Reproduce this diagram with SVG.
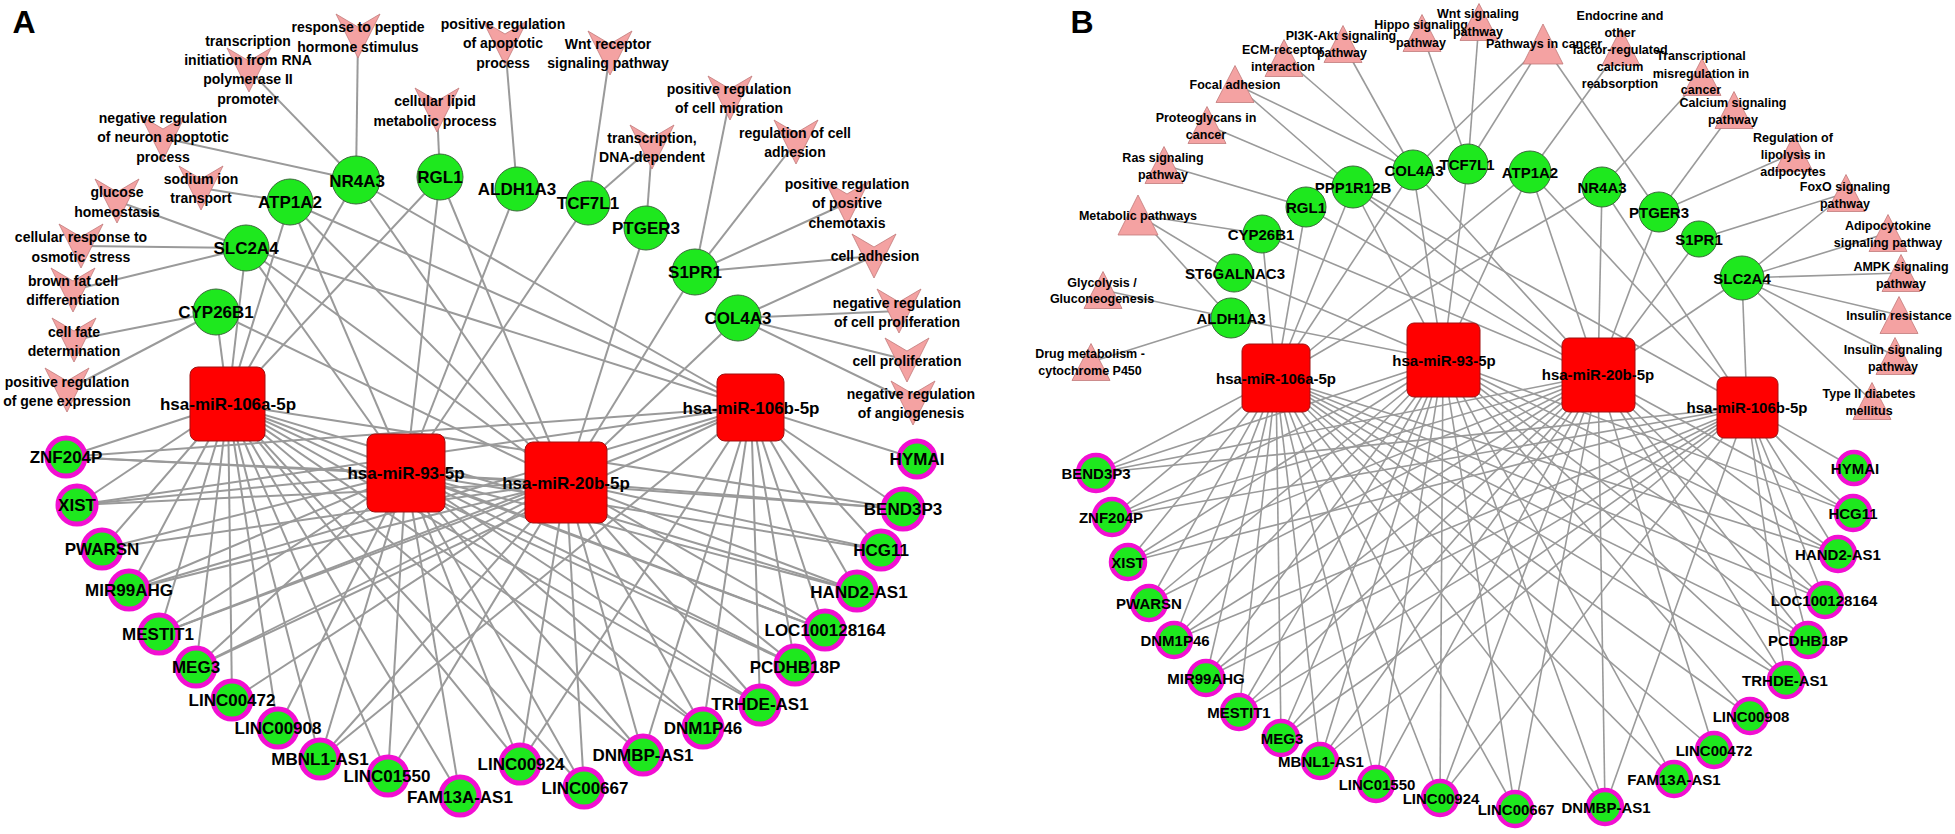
<svg xmlns="http://www.w3.org/2000/svg" xmlns:xlink="http://www.w3.org/1999/xlink" width="1955" height="834" viewBox="0 0 1955 834">
<style>
text{font-family:"Liberation Sans",Arial,sans-serif;font-weight:bold;fill:#000;text-anchor:middle}
.ea line{stroke:#9a9a9a;stroke-width:2}
.eb line{stroke:#9a9a9a;stroke-width:1.6}
.gene{fill:#1ee81e;stroke:#3a6a3a;stroke-width:1}
.lnc{fill:#1ee81e;stroke:#f20fd2;stroke-width:5}
.lncb{fill:#1ee81e;stroke:#f20fd2;stroke-width:4.5}
.mir{fill:#ff0000;stroke:#a01010;stroke-width:1}
.ta{font-size:17px}
.tb{font-size:15px}
.go{font-size:14px}
.kg{font-size:12.5px}
.pl{font-size:32px}
</style>
<defs>
<path id="gv" d="M-22,-22 L0,-9 L22,-22 L0,22 Z" fill="#f4a2a2" stroke="#c07a7a" stroke-width="0.8"/>
<path id="kt" d="M0,-18.5 L19,18.5 L-19,18.5 Z" fill="#f4a2a2" stroke="#c07a7a" stroke-width="0.8"/>
<path id="ktl" d="M0,-20 L20,20 L-20,20 Z" fill="#f4a2a2" stroke="#c07a7a" stroke-width="0.8"/>
</defs>
<rect width="1955" height="834" fill="#fff"/>
<text class="pl" x="24" y="33">A</text>
<text class="pl" x="1082" y="33">B</text>

<g id="edges-A" class="ea">
<line x1="358" y1="36" x2="356" y2="180"/>
<line x1="249" y1="70" x2="356" y2="180"/>
<line x1="163" y1="138" x2="356" y2="180"/>
<line x1="201" y1="188" x2="290" y2="202"/>
<line x1="117" y1="201" x2="246" y2="248"/>
<line x1="81" y1="246" x2="246" y2="248"/>
<line x1="73" y1="290" x2="246" y2="248"/>
<line x1="74" y1="340" x2="216" y2="312"/>
<line x1="67" y1="390" x2="216" y2="312"/>
<line x1="437" y1="110" x2="440" y2="177"/>
<line x1="505" y1="43" x2="517" y2="189"/>
<line x1="610" y1="53" x2="588" y2="203"/>
<line x1="652" y1="147" x2="588" y2="203"/>
<line x1="652" y1="147" x2="646" y2="228"/>
<line x1="730" y1="98" x2="695" y2="272"/>
<line x1="796" y1="142" x2="695" y2="272"/>
<line x1="847" y1="203" x2="695" y2="272"/>
<line x1="874" y1="256" x2="695" y2="272"/>
<line x1="874" y1="256" x2="738" y2="318"/>
<line x1="899" y1="311" x2="738" y2="318"/>
<line x1="907" y1="360" x2="738" y2="318"/>
<line x1="913" y1="403" x2="738" y2="318"/>
<line x1="356" y1="180" x2="228" y2="404"/>
<line x1="356" y1="180" x2="566" y2="482"/>
<line x1="356" y1="180" x2="751" y2="407"/>
<line x1="440" y1="177" x2="228" y2="404"/>
<line x1="440" y1="177" x2="406" y2="473"/>
<line x1="440" y1="177" x2="566" y2="482"/>
<line x1="290" y1="202" x2="228" y2="404"/>
<line x1="290" y1="202" x2="406" y2="473"/>
<line x1="290" y1="202" x2="566" y2="482"/>
<line x1="290" y1="202" x2="751" y2="407"/>
<line x1="246" y1="248" x2="228" y2="404"/>
<line x1="246" y1="248" x2="406" y2="473"/>
<line x1="246" y1="248" x2="566" y2="482"/>
<line x1="246" y1="248" x2="751" y2="407"/>
<line x1="216" y1="312" x2="228" y2="404"/>
<line x1="216" y1="312" x2="566" y2="482"/>
<line x1="517" y1="189" x2="406" y2="473"/>
<line x1="588" y1="203" x2="406" y2="473"/>
<line x1="646" y1="228" x2="566" y2="482"/>
<line x1="695" y1="272" x2="566" y2="482"/>
<line x1="738" y1="318" x2="566" y2="482"/>
<line x1="66" y1="457" x2="228" y2="404"/>
<line x1="66" y1="457" x2="406" y2="473"/>
<line x1="66" y1="457" x2="566" y2="482"/>
<line x1="66" y1="457" x2="751" y2="407"/>
<line x1="77" y1="505" x2="228" y2="404"/>
<line x1="77" y1="505" x2="406" y2="473"/>
<line x1="77" y1="505" x2="566" y2="482"/>
<line x1="77" y1="505" x2="751" y2="407"/>
<line x1="102" y1="549" x2="228" y2="404"/>
<line x1="102" y1="549" x2="406" y2="473"/>
<line x1="102" y1="549" x2="566" y2="482"/>
<line x1="129" y1="590" x2="228" y2="404"/>
<line x1="129" y1="590" x2="406" y2="473"/>
<line x1="129" y1="590" x2="566" y2="482"/>
<line x1="129" y1="590" x2="751" y2="407"/>
<line x1="159" y1="634" x2="228" y2="404"/>
<line x1="159" y1="634" x2="406" y2="473"/>
<line x1="159" y1="634" x2="566" y2="482"/>
<line x1="159" y1="634" x2="751" y2="407"/>
<line x1="196" y1="667" x2="228" y2="404"/>
<line x1="196" y1="667" x2="406" y2="473"/>
<line x1="196" y1="667" x2="566" y2="482"/>
<line x1="196" y1="667" x2="751" y2="407"/>
<line x1="232" y1="700" x2="228" y2="404"/>
<line x1="232" y1="700" x2="566" y2="482"/>
<line x1="278" y1="728" x2="228" y2="404"/>
<line x1="278" y1="728" x2="406" y2="473"/>
<line x1="320" y1="759" x2="228" y2="404"/>
<line x1="320" y1="759" x2="406" y2="473"/>
<line x1="320" y1="759" x2="566" y2="482"/>
<line x1="320" y1="759" x2="751" y2="407"/>
<line x1="388" y1="776" x2="228" y2="404"/>
<line x1="388" y1="776" x2="406" y2="473"/>
<line x1="388" y1="776" x2="566" y2="482"/>
<line x1="460" y1="796" x2="228" y2="404"/>
<line x1="460" y1="796" x2="406" y2="473"/>
<line x1="520" y1="764" x2="228" y2="404"/>
<line x1="520" y1="764" x2="406" y2="473"/>
<line x1="520" y1="764" x2="566" y2="482"/>
<line x1="520" y1="764" x2="751" y2="407"/>
<line x1="584" y1="788" x2="228" y2="404"/>
<line x1="584" y1="788" x2="406" y2="473"/>
<line x1="584" y1="788" x2="566" y2="482"/>
<line x1="643" y1="755" x2="228" y2="404"/>
<line x1="643" y1="755" x2="406" y2="473"/>
<line x1="643" y1="755" x2="566" y2="482"/>
<line x1="643" y1="755" x2="751" y2="407"/>
<line x1="703" y1="728" x2="228" y2="404"/>
<line x1="703" y1="728" x2="406" y2="473"/>
<line x1="703" y1="728" x2="566" y2="482"/>
<line x1="703" y1="728" x2="751" y2="407"/>
<line x1="760" y1="705" x2="228" y2="404"/>
<line x1="760" y1="705" x2="406" y2="473"/>
<line x1="760" y1="705" x2="566" y2="482"/>
<line x1="760" y1="705" x2="751" y2="407"/>
<line x1="795" y1="665" x2="228" y2="404"/>
<line x1="795" y1="665" x2="406" y2="473"/>
<line x1="795" y1="665" x2="566" y2="482"/>
<line x1="795" y1="665" x2="751" y2="407"/>
<line x1="825" y1="630" x2="228" y2="404"/>
<line x1="825" y1="630" x2="406" y2="473"/>
<line x1="825" y1="630" x2="566" y2="482"/>
<line x1="825" y1="630" x2="751" y2="407"/>
<line x1="857" y1="591" x2="228" y2="404"/>
<line x1="857" y1="591" x2="406" y2="473"/>
<line x1="857" y1="591" x2="566" y2="482"/>
<line x1="857" y1="591" x2="751" y2="407"/>
<line x1="881" y1="550" x2="406" y2="473"/>
<line x1="881" y1="550" x2="566" y2="482"/>
<line x1="881" y1="550" x2="751" y2="407"/>
<line x1="903" y1="509" x2="228" y2="404"/>
<line x1="903" y1="509" x2="406" y2="473"/>
<line x1="903" y1="509" x2="566" y2="482"/>
<line x1="903" y1="509" x2="751" y2="407"/>
<line x1="917" y1="459" x2="751" y2="407"/>
</g>

<g id="edges-B" class="eb">
<line x1="1284" y1="58" x2="1413" y2="170"/>
<line x1="1343" y1="44" x2="1413" y2="170"/>
<line x1="1235" y1="84" x2="1413" y2="170"/>
<line x1="1235" y1="84" x2="1353" y2="187"/>
<line x1="1207" y1="125" x2="1353" y2="187"/>
<line x1="1164" y1="165" x2="1306" y2="207"/>
<line x1="1138" y1="215" x2="1262" y2="234"/>
<line x1="1138" y1="215" x2="1234" y2="273"/>
<line x1="1138" y1="215" x2="1231" y2="318"/>
<line x1="1103" y1="290" x2="1231" y2="318"/>
<line x1="1091" y1="362" x2="1231" y2="318"/>
<line x1="1422" y1="33" x2="1468" y2="164"/>
<line x1="1479" y1="22" x2="1468" y2="164"/>
<line x1="1543" y1="44" x2="1413" y2="170"/>
<line x1="1543" y1="44" x2="1468" y2="164"/>
<line x1="1543" y1="44" x2="1659" y2="212"/>
<line x1="1621" y1="47" x2="1530" y2="172"/>
<line x1="1702" y1="77" x2="1602" y2="187"/>
<line x1="1734" y1="110" x2="1659" y2="212"/>
<line x1="1794" y1="153" x2="1659" y2="212"/>
<line x1="1846" y1="193" x2="1699" y2="239"/>
<line x1="1846" y1="193" x2="1742" y2="278"/>
<line x1="1888" y1="233" x2="1742" y2="278"/>
<line x1="1901" y1="273" x2="1742" y2="278"/>
<line x1="1899" y1="315" x2="1742" y2="278"/>
<line x1="1895" y1="356" x2="1742" y2="278"/>
<line x1="1872" y1="401" x2="1742" y2="278"/>
<line x1="1413" y1="170" x2="1276" y2="378"/>
<line x1="1413" y1="170" x2="1443" y2="360"/>
<line x1="1413" y1="170" x2="1598" y2="375"/>
<line x1="1468" y1="164" x2="1443" y2="360"/>
<line x1="1530" y1="172" x2="1276" y2="378"/>
<line x1="1530" y1="172" x2="1443" y2="360"/>
<line x1="1530" y1="172" x2="1598" y2="375"/>
<line x1="1530" y1="172" x2="1747" y2="407"/>
<line x1="1602" y1="187" x2="1276" y2="378"/>
<line x1="1602" y1="187" x2="1598" y2="375"/>
<line x1="1602" y1="187" x2="1747" y2="407"/>
<line x1="1659" y1="212" x2="1598" y2="375"/>
<line x1="1699" y1="239" x2="1598" y2="375"/>
<line x1="1742" y1="278" x2="1598" y2="375"/>
<line x1="1742" y1="278" x2="1747" y2="407"/>
<line x1="1353" y1="187" x2="1276" y2="378"/>
<line x1="1353" y1="187" x2="1443" y2="360"/>
<line x1="1353" y1="187" x2="1598" y2="375"/>
<line x1="1353" y1="187" x2="1747" y2="407"/>
<line x1="1306" y1="207" x2="1276" y2="378"/>
<line x1="1306" y1="207" x2="1598" y2="375"/>
<line x1="1262" y1="234" x2="1276" y2="378"/>
<line x1="1262" y1="234" x2="1598" y2="375"/>
<line x1="1234" y1="273" x2="1443" y2="360"/>
<line x1="1231" y1="318" x2="1443" y2="360"/>
<line x1="1096" y1="473" x2="1276" y2="378"/>
<line x1="1096" y1="473" x2="1443" y2="360"/>
<line x1="1096" y1="473" x2="1598" y2="375"/>
<line x1="1096" y1="473" x2="1747" y2="407"/>
<line x1="1112" y1="517" x2="1276" y2="378"/>
<line x1="1112" y1="517" x2="1443" y2="360"/>
<line x1="1112" y1="517" x2="1598" y2="375"/>
<line x1="1112" y1="517" x2="1747" y2="407"/>
<line x1="1128" y1="562" x2="1276" y2="378"/>
<line x1="1128" y1="562" x2="1443" y2="360"/>
<line x1="1128" y1="562" x2="1598" y2="375"/>
<line x1="1128" y1="562" x2="1747" y2="407"/>
<line x1="1149" y1="603" x2="1276" y2="378"/>
<line x1="1149" y1="603" x2="1443" y2="360"/>
<line x1="1149" y1="603" x2="1598" y2="375"/>
<line x1="1174" y1="640" x2="1276" y2="378"/>
<line x1="1174" y1="640" x2="1443" y2="360"/>
<line x1="1174" y1="640" x2="1598" y2="375"/>
<line x1="1174" y1="640" x2="1747" y2="407"/>
<line x1="1206" y1="678" x2="1276" y2="378"/>
<line x1="1206" y1="678" x2="1443" y2="360"/>
<line x1="1206" y1="678" x2="1598" y2="375"/>
<line x1="1206" y1="678" x2="1747" y2="407"/>
<line x1="1239" y1="712" x2="1276" y2="378"/>
<line x1="1239" y1="712" x2="1443" y2="360"/>
<line x1="1239" y1="712" x2="1598" y2="375"/>
<line x1="1239" y1="712" x2="1747" y2="407"/>
<line x1="1281" y1="738" x2="1276" y2="378"/>
<line x1="1281" y1="738" x2="1443" y2="360"/>
<line x1="1281" y1="738" x2="1598" y2="375"/>
<line x1="1281" y1="738" x2="1747" y2="407"/>
<line x1="1320" y1="761" x2="1276" y2="378"/>
<line x1="1320" y1="761" x2="1443" y2="360"/>
<line x1="1320" y1="761" x2="1598" y2="375"/>
<line x1="1320" y1="761" x2="1747" y2="407"/>
<line x1="1376" y1="784" x2="1276" y2="378"/>
<line x1="1376" y1="784" x2="1443" y2="360"/>
<line x1="1376" y1="784" x2="1598" y2="375"/>
<line x1="1440" y1="798" x2="1276" y2="378"/>
<line x1="1440" y1="798" x2="1443" y2="360"/>
<line x1="1440" y1="798" x2="1598" y2="375"/>
<line x1="1440" y1="798" x2="1747" y2="407"/>
<line x1="1515" y1="809" x2="1276" y2="378"/>
<line x1="1515" y1="809" x2="1443" y2="360"/>
<line x1="1515" y1="809" x2="1598" y2="375"/>
<line x1="1605" y1="807" x2="1276" y2="378"/>
<line x1="1605" y1="807" x2="1443" y2="360"/>
<line x1="1605" y1="807" x2="1598" y2="375"/>
<line x1="1605" y1="807" x2="1747" y2="407"/>
<line x1="1674" y1="779" x2="1276" y2="378"/>
<line x1="1674" y1="779" x2="1443" y2="360"/>
<line x1="1714" y1="750" x2="1276" y2="378"/>
<line x1="1714" y1="750" x2="1598" y2="375"/>
<line x1="1750" y1="716" x2="1276" y2="378"/>
<line x1="1750" y1="716" x2="1443" y2="360"/>
<line x1="1786" y1="680" x2="1276" y2="378"/>
<line x1="1786" y1="680" x2="1443" y2="360"/>
<line x1="1786" y1="680" x2="1598" y2="375"/>
<line x1="1786" y1="680" x2="1747" y2="407"/>
<line x1="1808" y1="640" x2="1276" y2="378"/>
<line x1="1808" y1="640" x2="1443" y2="360"/>
<line x1="1808" y1="640" x2="1598" y2="375"/>
<line x1="1808" y1="640" x2="1747" y2="407"/>
<line x1="1825" y1="600" x2="1276" y2="378"/>
<line x1="1825" y1="600" x2="1443" y2="360"/>
<line x1="1825" y1="600" x2="1598" y2="375"/>
<line x1="1825" y1="600" x2="1747" y2="407"/>
<line x1="1838" y1="554" x2="1276" y2="378"/>
<line x1="1838" y1="554" x2="1443" y2="360"/>
<line x1="1838" y1="554" x2="1598" y2="375"/>
<line x1="1838" y1="554" x2="1747" y2="407"/>
<line x1="1853" y1="513" x2="1443" y2="360"/>
<line x1="1853" y1="513" x2="1598" y2="375"/>
<line x1="1853" y1="513" x2="1747" y2="407"/>
<line x1="1854" y1="468" x2="1747" y2="407"/>
</g>

<!-- Panel A GO terms -->
<g id="goA1"><use href="#gv" x="358" y="36"/><text class="go"><tspan x="358" y="32">response to peptide</tspan><tspan x="358" y="52">hormone stimulus</tspan></text></g>
<g id="goA2"><use href="#gv" x="249" y="70"/><text class="go"><tspan x="248" y="46">transcription</tspan><tspan x="248" y="65">initiation from RNA</tspan><tspan x="248" y="84">polymerase II</tspan><tspan x="248" y="104">promoter</tspan></text></g>
<g id="goA3"><use href="#gv" x="163" y="138"/><text class="go"><tspan x="163" y="123">negative regulation</tspan><tspan x="163" y="142">of neuron apoptotic</tspan><tspan x="163" y="162">process</tspan></text></g>
<g id="goA4"><use href="#gv" x="201" y="188"/><text class="go"><tspan x="201" y="184">sodium ion</tspan><tspan x="201" y="203">transport</tspan></text></g>
<g id="goA5"><use href="#gv" x="117" y="201"/><text class="go"><tspan x="117" y="197">glucose</tspan><tspan x="117" y="217">homeostasis</tspan></text></g>
<g id="goA6"><use href="#gv" x="81" y="246"/><text class="go"><tspan x="81" y="242">cellular response to</tspan><tspan x="81" y="262">osmotic stress</tspan></text></g>
<g id="goA7"><use href="#gv" x="73" y="290"/><text class="go"><tspan x="73" y="286">brown fat cell</tspan><tspan x="73" y="305">differentiation</tspan></text></g>
<g id="goA8"><use href="#gv" x="74" y="340"/><text class="go"><tspan x="74" y="337">cell fate</tspan><tspan x="74" y="356">determination</tspan></text></g>
<g id="goA9"><use href="#gv" x="67" y="390"/><text class="go"><tspan x="67" y="387">positive regulation</tspan><tspan x="67" y="406">of gene expression</tspan></text></g>
<g id="goA10"><use href="#gv" x="437" y="110"/><text class="go"><tspan x="435" y="106">cellular lipid</tspan><tspan x="435" y="126">metabolic process</tspan></text></g>
<g id="goA11"><use href="#gv" x="505" y="43"/><text class="go"><tspan x="503" y="29">positive regulation</tspan><tspan x="503" y="48">of apoptotic</tspan><tspan x="503" y="68">process</tspan></text></g>
<g id="goA12"><use href="#gv" x="610" y="53"/><text class="go"><tspan x="608" y="49">Wnt receptor</tspan><tspan x="608" y="68">signaling pathway</tspan></text></g>
<g id="goA13"><use href="#gv" x="652" y="147"/><text class="go"><tspan x="652" y="143">transcription,</tspan><tspan x="652" y="162">DNA-dependent</tspan></text></g>
<g id="goA14"><use href="#gv" x="730" y="98"/><text class="go"><tspan x="729" y="94">positive regulation</tspan><tspan x="729" y="113">of cell migration</tspan></text></g>
<g id="goA15"><use href="#gv" x="796" y="142"/><text class="go"><tspan x="795" y="138">regulation of cell</tspan><tspan x="795" y="157">adhesion</tspan></text></g>
<g id="goA16"><use href="#gv" x="847" y="203"/><text class="go"><tspan x="847" y="189">positive regulation</tspan><tspan x="847" y="208">of positive</tspan><tspan x="847" y="228">chemotaxis</tspan></text></g>
<g id="goA17"><use href="#gv" x="874" y="256"/><text class="go"><tspan x="875" y="261">cell adhesion</tspan></text></g>
<g id="goA18"><use href="#gv" x="899" y="311"/><text class="go"><tspan x="897" y="308">negative regulation</tspan><tspan x="897" y="327">of cell proliferation</tspan></text></g>
<g id="goA19"><use href="#gv" x="907" y="360"/><text class="go"><tspan x="907" y="366">cell proliferation</tspan></text></g>
<g id="goA20"><use href="#gv" x="913" y="403"/><text class="go"><tspan x="911" y="399">negative regulation</tspan><tspan x="911" y="418">of angiogenesis</tspan></text></g>

<!-- Panel A genes -->
<g id="A-NR4A3"><circle class="gene" cx="356" cy="180" r="24"/><text class="ta" x="357" y="187">NR4A3</text></g>
<g id="A-RGL1"><circle class="gene" cx="440" cy="177" r="23"/><text class="ta" x="440" y="183">RGL1</text></g>
<g id="A-ATP1A2"><circle class="gene" cx="290" cy="202" r="23"/><text class="ta" x="290" y="208">ATP1A2</text></g>
<g id="A-SLC2A4"><circle class="gene" cx="246" cy="248" r="23"/><text class="ta" x="246" y="254">SLC2A4</text></g>
<g id="A-CYP26B1"><circle class="gene" cx="216" cy="312" r="23"/><text class="ta" x="216" y="318">CYP26B1</text></g>
<g id="A-ALDH1A3"><circle class="gene" cx="517" cy="189" r="22"/><text class="ta" x="517" y="195">ALDH1A3</text></g>
<g id="A-TCF7L1"><circle class="gene" cx="588" cy="203" r="22"/><text class="ta" x="588" y="209">TCF7L1</text></g>
<g id="A-PTGER3"><circle class="gene" cx="646" cy="228" r="22"/><text class="ta" x="646" y="234">PTGER3</text></g>
<g id="A-S1PR1"><circle class="gene" cx="695" cy="272" r="23"/><text class="ta" x="695" y="278">S1PR1</text></g>
<g id="A-COL4A3"><circle class="gene" cx="738" cy="318" r="23"/><text class="ta" x="738" y="324">COL4A3</text></g>

<!-- Panel A miRNAs -->
<g id="A-miR106a"><rect class="mir" x="190" y="367" width="75" height="74" rx="8"/><text class="ta" x="228" y="410">hsa-miR-106a-5p</text></g>
<g id="A-miR93"><rect class="mir" x="367" y="434" width="78" height="78" rx="8"/><text class="ta" x="406" y="479">hsa-miR-93-5p</text></g>
<g id="A-miR20b"><rect class="mir" x="525" y="442" width="82" height="81" rx="8"/><text class="ta" x="566" y="489">hsa-miR-20b-5p</text></g>
<g id="A-miR106b"><rect class="mir" x="717" y="374" width="67" height="67" rx="8"/><text class="ta" x="751" y="414">hsa-miR-106b-5p</text></g>

<!-- Panel A lncRNAs -->
<g id="A-ZNF204P"><circle class="lnc" cx="66" cy="457" r="19"/><text class="ta" x="66" y="463">ZNF204P</text></g>
<g id="A-XIST"><circle class="lnc" cx="77" cy="505" r="19"/><text class="ta" x="77" y="511">XIST</text></g>
<g id="A-PWARSN"><circle class="lnc" cx="102" cy="549" r="19"/><text class="ta" x="102" y="555">PWARSN</text></g>
<g id="A-MIR99AHG"><circle class="lnc" cx="129" cy="590" r="19"/><text class="ta" x="129" y="596">MIR99AHG</text></g>
<g id="A-MESTIT1"><circle class="lnc" cx="159" cy="634" r="19"/><text class="ta" x="158" y="640">MESTIT1</text></g>
<g id="A-MEG3"><circle class="lnc" cx="196" cy="667" r="19"/><text class="ta" x="196" y="673">MEG3</text></g>
<g id="A-LINC00472"><circle class="lnc" cx="232" cy="700" r="19"/><text class="ta" x="232" y="706">LINC00472</text></g>
<g id="A-LINC00908"><circle class="lnc" cx="278" cy="728" r="19"/><text class="ta" x="278" y="734">LINC00908</text></g>
<g id="A-MBNL1-AS1"><circle class="lnc" cx="320" cy="759" r="19"/><text class="ta" x="320" y="765">MBNL1-AS1</text></g>
<g id="A-LINC01550"><circle class="lnc" cx="388" cy="776" r="19"/><text class="ta" x="387" y="782">LINC01550</text></g>
<g id="A-FAM13A-AS1"><circle class="lnc" cx="460" cy="796" r="19"/><text class="ta" x="460" y="803">FAM13A-AS1</text></g>
<g id="A-LINC00924"><circle class="lnc" cx="520" cy="764" r="19"/><text class="ta" x="521" y="770">LINC00924</text></g>
<g id="A-LINC00667"><circle class="lnc" cx="584" cy="788" r="19"/><text class="ta" x="585" y="794">LINC00667</text></g>
<g id="A-DNMBP-AS1"><circle class="lnc" cx="643" cy="755" r="19"/><text class="ta" x="643" y="761">DNMBP-AS1</text></g>
<g id="A-DNM1P46"><circle class="lnc" cx="703" cy="728" r="19"/><text class="ta" x="703" y="734">DNM1P46</text></g>
<g id="A-TRHDE-AS1"><circle class="lnc" cx="760" cy="705" r="19"/><text class="ta" x="760" y="710">TRHDE-AS1</text></g>
<g id="A-PCDHB18P"><circle class="lnc" cx="795" cy="665" r="19"/><text class="ta" x="795" y="673">PCDHB18P</text></g>
<g id="A-LOC100128164"><circle class="lnc" cx="825" cy="630" r="19"/><text class="ta" x="825" y="636">LOC100128164</text></g>
<g id="A-HAND2-AS1"><circle class="lnc" cx="857" cy="591" r="19"/><text class="ta" x="859" y="598">HAND2-AS1</text></g>
<g id="A-HCG11"><circle class="lnc" cx="881" cy="550" r="19"/><text class="ta" x="881" y="556">HCG11</text></g>
<g id="A-BEND3P3"><circle class="lnc" cx="903" cy="509" r="20"/><text class="ta" x="903" y="515">BEND3P3</text></g>
<g id="A-HYMAI"><circle class="lnc" cx="917" cy="459" r="18"/><text class="ta" x="917" y="465">HYMAI</text></g>

<!-- Panel B KEGG -->
<g id="kgB1"><use href="#kt" x="1284" y="58"/><text class="kg"><tspan x="1283" y="53.5">ECM-receptor</tspan><tspan x="1283" y="70.5">interaction</tspan></text></g>
<g id="kgB2"><use href="#kt" x="1343" y="44"/><text class="kg"><tspan x="1341" y="39.5">PI3K-Akt signaling</tspan><tspan x="1342" y="56.5">pathway</tspan></text></g>
<g id="kgB3"><use href="#kt" x="1422" y="33"/><text class="kg"><tspan x="1421" y="28.5">Hippo signaling</tspan><tspan x="1421" y="46.5">pathway</tspan></text></g>
<g id="kgB4"><use href="#kt" x="1479" y="22"/><text class="kg"><tspan x="1478" y="17.5">Wnt signaling</tspan><tspan x="1478" y="35.5">pathway</tspan></text></g>
<g id="kgB5"><use href="#ktl" x="1543" y="44"/><text class="kg"><tspan x="1544" y="47.5">Pathways in cancer</tspan></text></g>
<g id="kgB6"><use href="#kt" x="1621" y="47"/><text class="kg"><tspan x="1620" y="19.5">Endocrine and</tspan><tspan x="1620" y="36.5">other</tspan><tspan x="1620" y="53.5">factor-regulated</tspan><tspan x="1620" y="70.5">calcium</tspan><tspan x="1620" y="87.5">reabsorption</tspan></text></g>
<g id="kgB7"><use href="#kt" x="1702" y="77"/><text class="kg"><tspan x="1701" y="59.5">Transcriptional</tspan><tspan x="1701" y="77.5">misregulation in</tspan><tspan x="1701" y="93.5">cancer</tspan></text></g>
<g id="kgB8"><use href="#kt" x="1734" y="110"/><text class="kg"><tspan x="1733" y="106.5">Calcium signaling</tspan><tspan x="1733" y="123.5">pathway</tspan></text></g>
<g id="kgB9"><use href="#kt" x="1794" y="153"/><text class="kg"><tspan x="1793" y="141.5">Regulation of</tspan><tspan x="1793" y="158.5">lipolysis in</tspan><tspan x="1793" y="175.5">adipocytes</tspan></text></g>
<g id="kgB10"><use href="#kt" x="1846" y="193"/><text class="kg"><tspan x="1845" y="190.5">FoxO signaling</tspan><tspan x="1845" y="207.5">pathway</tspan></text></g>
<g id="kgB11"><use href="#kt" x="1888" y="233"/><text class="kg"><tspan x="1888" y="229.5">Adipocytokine</tspan><tspan x="1888" y="246.5">signaling pathway</tspan></text></g>
<g id="kgB12"><use href="#kt" x="1901" y="273"/><text class="kg"><tspan x="1901" y="270.5">AMPK signaling</tspan><tspan x="1901" y="287.5">pathway</tspan></text></g>
<g id="kgB13"><use href="#kt" x="1899" y="315"/><text class="kg"><tspan x="1899" y="319.5">Insulin resistance</tspan></text></g>
<g id="kgB14"><use href="#kt" x="1895" y="356"/><text class="kg"><tspan x="1893" y="353.5">Insulin signaling</tspan><tspan x="1893" y="370.5">pathway</tspan></text></g>
<g id="kgB15"><use href="#kt" x="1872" y="401"/><text class="kg"><tspan x="1869" y="397.5">Type II diabetes</tspan><tspan x="1869" y="414.5">mellitus</tspan></text></g>
<g id="kgB16"><use href="#kt" x="1207" y="125"/><text class="kg"><tspan x="1206" y="121.5">Proteoglycans in</tspan><tspan x="1206" y="138.5">cancer</tspan></text></g>
<g id="kgB17"><use href="#kt" x="1164" y="165"/><text class="kg"><tspan x="1163" y="161.5">Ras signaling</tspan><tspan x="1163" y="178.5">pathway</tspan></text></g>
<g id="kgB18"><use href="#ktl" x="1138" y="215"/><text class="kg"><tspan x="1138" y="219.5">Metabolic pathways</tspan></text></g>
<g id="kgB19"><use href="#kt" x="1103" y="290"/><text class="kg"><tspan x="1102" y="286.5">Glycolysis /</tspan><tspan x="1102" y="302.5">Gluconeogenesis</tspan></text></g>
<g id="kgB20"><use href="#kt" x="1091" y="362"/><text class="kg"><tspan x="1090" y="357.5">Drug metabolism -</tspan><tspan x="1090" y="374.5">cytochrome P450</tspan></text></g>
<g id="kgB21"><use href="#kt" x="1235" y="84"/><text class="kg"><tspan x="1235" y="88.5">Focal adhesion</tspan></text></g>

<!-- Panel B genes -->
<g id="B-COL4A3"><circle class="gene" cx="1413" cy="170" r="20"/><text class="tb" x="1414" y="175.5">COL4A3</text></g>
<g id="B-TCF7L1"><circle class="gene" cx="1468" cy="164" r="20"/><text class="tb" x="1467" y="169.5">TCF7L1</text></g>
<g id="B-PPP1R12B"><circle class="gene" cx="1353" cy="187" r="21"/><text class="tb" x="1353" y="192.5">PPP1R12B</text></g>
<g id="B-RGL1"><circle class="gene" cx="1306" cy="207" r="20"/><text class="tb" x="1306" y="212.5">RGL1</text></g>
<g id="B-CYP26B1"><circle class="gene" cx="1262" cy="234" r="19"/><text class="tb" x="1261" y="239.5">CYP26B1</text></g>
<g id="B-ST6GALNAC3"><circle class="gene" cx="1234" cy="273" r="19"/><text class="tb" x="1235" y="278.5">ST6GALNAC3</text></g>
<g id="B-ALDH1A3"><circle class="gene" cx="1231" cy="318" r="20"/><text class="tb" x="1231" y="323.5">ALDH1A3</text></g>
<g id="B-ATP1A2"><circle class="gene" cx="1530" cy="172" r="21"/><text class="tb" x="1530" y="177.5">ATP1A2</text></g>
<g id="B-NR4A3"><circle class="gene" cx="1602" cy="187" r="20"/><text class="tb" x="1602" y="192.5">NR4A3</text></g>
<g id="B-PTGER3"><circle class="gene" cx="1659" cy="212" r="20"/><text class="tb" x="1659" y="217.5">PTGER3</text></g>
<g id="B-S1PR1"><circle class="gene" cx="1699" cy="239" r="18"/><text class="tb" x="1699" y="244.5">S1PR1</text></g>
<g id="B-SLC2A4"><circle class="gene" cx="1742" cy="278" r="22"/><text class="tb" x="1742" y="283.5">SLC2A4</text></g>

<!-- Panel B miRNAs -->
<g id="B-miR106a"><rect class="mir" x="1242" y="344" width="68" height="68" rx="7"/><text class="tb" x="1276" y="384">hsa-miR-106a-5p</text></g>
<g id="B-miR93"><rect class="mir" x="1407" y="323" width="73" height="74" rx="7"/><text class="tb" x="1444" y="366">hsa-miR-93-5p</text></g>
<g id="B-miR20b"><rect class="mir" x="1562" y="338" width="73" height="74" rx="7"/><text class="tb" x="1598" y="380">hsa-miR-20b-5p</text></g>
<g id="B-miR106b"><rect class="mir" x="1717" y="377" width="61" height="61" rx="7"/><text class="tb" x="1747" y="413">hsa-miR-106b-5p</text></g>

<!-- Panel B lncRNAs -->
<g id="B-BEND3P3"><circle class="lncb" cx="1096" cy="473" r="18"/><text class="tb" x="1096" y="478.5">BEND3P3</text></g>
<g id="B-ZNF204P"><circle class="lncb" cx="1112" cy="517" r="18"/><text class="tb" x="1111" y="522.5">ZNF204P</text></g>
<g id="B-XIST"><circle class="lncb" cx="1128" cy="562" r="17"/><text class="tb" x="1128" y="567.5">XIST</text></g>
<g id="B-PWARSN"><circle class="lncb" cx="1149" cy="603" r="17"/><text class="tb" x="1149" y="608.5">PWARSN</text></g>
<g id="B-DNM1P46"><circle class="lncb" cx="1174" cy="640" r="17"/><text class="tb" x="1175" y="645.5">DNM1P46</text></g>
<g id="B-MIR99AHG"><circle class="lncb" cx="1206" cy="678" r="17"/><text class="tb" x="1206" y="683.5">MIR99AHG</text></g>
<g id="B-MESTIT1"><circle class="lncb" cx="1239" cy="712" r="17"/><text class="tb" x="1239" y="717.5">MESTIT1</text></g>
<g id="B-MEG3"><circle class="lncb" cx="1281" cy="738" r="17"/><text class="tb" x="1282" y="743.5">MEG3</text></g>
<g id="B-MBNL1-AS1"><circle class="lncb" cx="1320" cy="761" r="17"/><text class="tb" x="1321" y="766.5">MBNL1-AS1</text></g>
<g id="B-LINC01550"><circle class="lncb" cx="1376" cy="784" r="17"/><text class="tb" x="1377" y="789.5">LINC01550</text></g>
<g id="B-LINC00924"><circle class="lncb" cx="1440" cy="798" r="17"/><text class="tb" x="1441" y="803.5">LINC00924</text></g>
<g id="B-LINC00667"><circle class="lncb" cx="1515" cy="809" r="17"/><text class="tb" x="1516" y="814.5">LINC00667</text></g>
<g id="B-DNMBP-AS1"><circle class="lncb" cx="1605" cy="807" r="17"/><text class="tb" x="1606" y="812.5">DNMBP-AS1</text></g>
<g id="B-FAM13A-AS1"><circle class="lncb" cx="1674" cy="779" r="17"/><text class="tb" x="1674" y="784.5">FAM13A-AS1</text></g>
<g id="B-LINC00472"><circle class="lncb" cx="1714" cy="750" r="17"/><text class="tb" x="1714" y="755.5">LINC00472</text></g>
<g id="B-LINC00908"><circle class="lncb" cx="1750" cy="716" r="17"/><text class="tb" x="1751" y="721.5">LINC00908</text></g>
<g id="B-TRHDE-AS1"><circle class="lncb" cx="1786" cy="680" r="17"/><text class="tb" x="1785" y="685.5">TRHDE-AS1</text></g>
<g id="B-PCDHB18P"><circle class="lncb" cx="1808" cy="640" r="17"/><text class="tb" x="1808" y="645.5">PCDHB18P</text></g>
<g id="B-LOC100128164"><circle class="lncb" cx="1825" cy="600" r="17"/><text class="tb" x="1824" y="605.5">LOC100128164</text></g>
<g id="B-HAND2-AS1"><circle class="lncb" cx="1838" cy="554" r="17"/><text class="tb" x="1838" y="559.5">HAND2-AS1</text></g>
<g id="B-HCG11"><circle class="lncb" cx="1853" cy="513" r="17"/><text class="tb" x="1853" y="518.5">HCG11</text></g>
<g id="B-HYMAI"><circle class="lncb" cx="1854" cy="468" r="16"/><text class="tb" x="1855" y="473.5">HYMAI</text></g>
</svg>
